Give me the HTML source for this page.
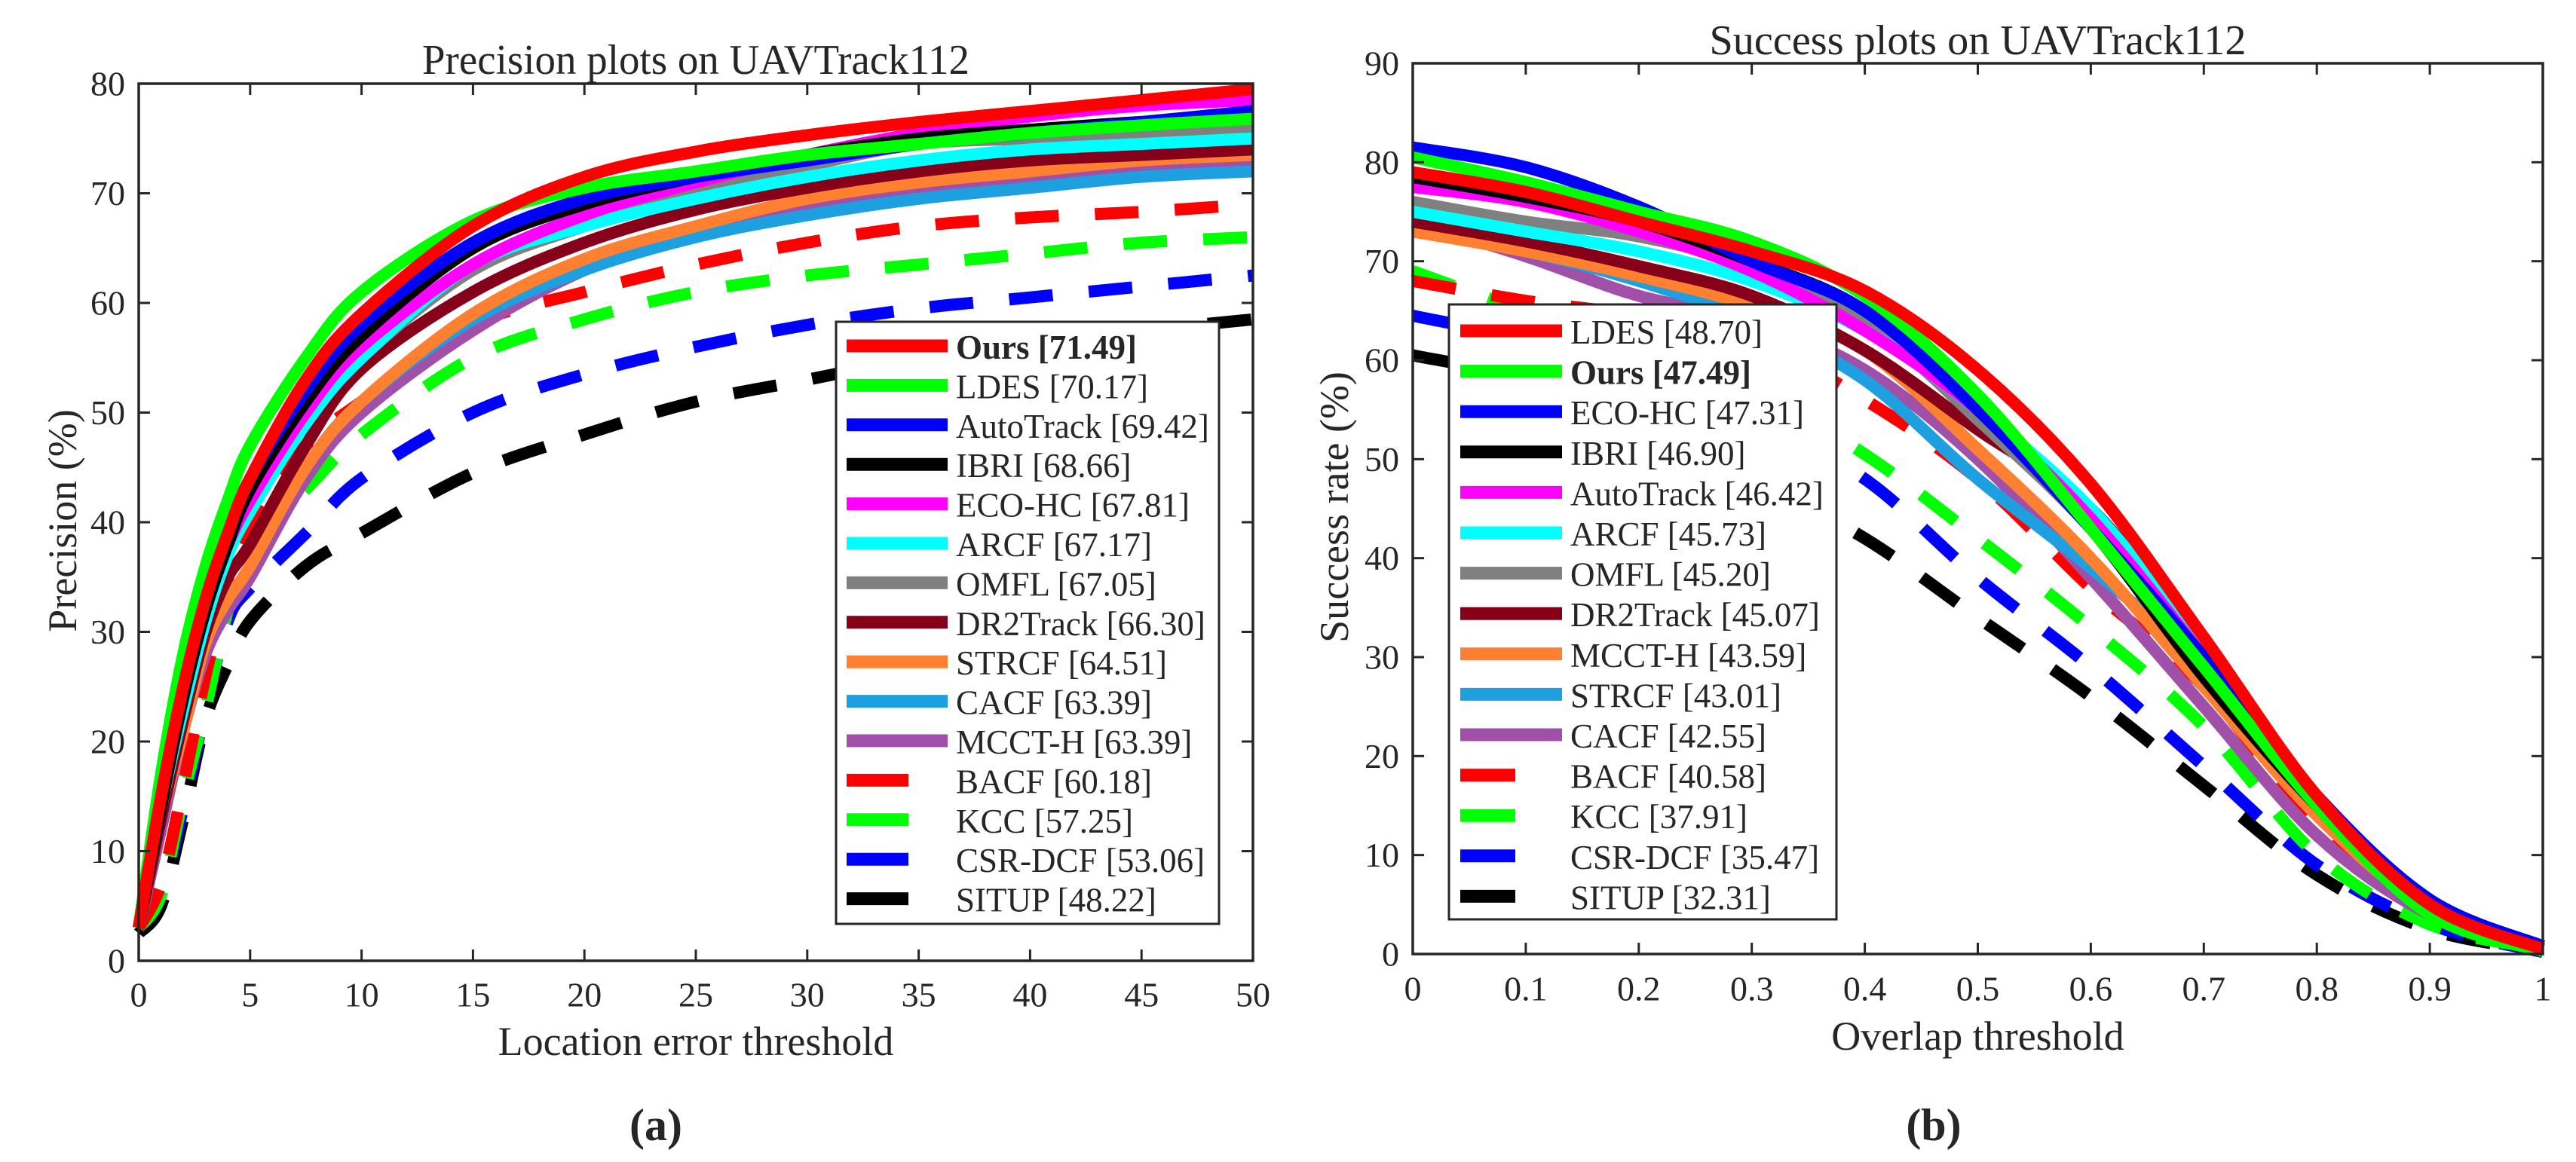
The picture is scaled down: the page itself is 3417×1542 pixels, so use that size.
<!DOCTYPE html>
<html><head><meta charset="utf-8"><style>
html,body{margin:0;padding:0;background:#fff}
svg{display:block}
text{font-family:"Liberation Serif",serif;fill:#262626}
</style></head><body>
<svg id="fig" width="3417" height="1542" viewBox="0 0 3417 1542" xmlns="http://www.w3.org/2000/svg"></svg>
<script>
// ---------- data ----------
const names = ["Ours","LDES","AutoTrack","IBRI","ECO-HC","ARCF","OMFL","DR2Track","STRCF","CACF","MCCT-H","BACF","KCC","CSR-DCF","SITUP"];
const precScores = ["71.49","70.17","69.42","68.66","67.81","67.17","67.05","66.30","64.51","63.39","63.39","60.18","57.25","53.06","48.22"];
const precX = [0,1,2,3,4,5,7.5,10,15,20,25,30,35,40,45,50];
const precOurs = [3,15,25,33,39,44,53,59,67,71.5,73.8,75.3,76.5,77.5,78.5,79.5];
const precLDES = [3,17,28,36,42,47,55,61,67.5,70.5,72,73.5,74.5,75.5,76.2,76.8];
const precAutoTrack = [3,15,25,33,39,44,52,58,65.5,69.5,71.5,73,74.5,75.5,76.5,77.5];
const precIBRI = [3,14,24,32,38,43,51,57,65,69,71.5,73.5,75,75.8,76.5,77];
const precECO = [3,15,25,33,38,42,50,56,63.5,68,71,73.5,75.5,77,78,78.5];
const precARCF = [3,14,23,31,37,41,49,55,63.5,67,69.5,71.5,73,74,74.5,75];
const precOMFL = [3,14,23,31,37,41,49,55,63,67,70,72.5,74.5,75,75.5,76];
const precDR2 = [3,13,22,30,35,38,47,54,61,65.5,68.5,70.5,72,73,73.5,74];
const precSTRCF = [3,13,21,29,33,36,45,51,59,64,67,69.5,71,72,73,73.5];
const precCACF = [3,13,21,29,33,36,45,51,58.5,63,66,68,69.5,70.5,71.5,72];
const precMCCT = [3,12,21,28,32,35,44,50,57.5,63,66.5,69,70.5,71.5,72.5,73];
const precBACF = [3,7,16,26,34,40,47,51,58,61,63.5,65.5,67,67.8,68.3,69];
const precKCC = [3,6,15,23,32,38,43,48,55,58.5,61,62.5,63.5,64.5,65.5,66];
const precCSR = [3,6,14,23,31,34,39,44,50,53.5,56,58,59.5,60.5,61.5,62.5];
const precSITUP = [2.5,5,13,22,27,31,36,39,44.5,48,51,53,55,56.5,57.5,58.5];

const succNames = ["LDES","Ours","ECO-HC","IBRI","AutoTrack","ARCF","OMFL","DR2Track","MCCT-H","STRCF","CACF","BACF","KCC","CSR-DCF","SITUP"];
const succScores = ["48.70","47.49","47.31","46.90","46.42","45.73","45.20","45.07","43.59","43.01","42.55","40.58","37.91","35.47","32.31"];
const succX = [0,0.1,0.2,0.3,0.4,0.5,0.6,0.7,0.8,0.9,1];
const succLDES = [79,77,74,71,67,59,47.5,32,16,5,0.5];
const succOurs = [80.5,78,75,72,66.5,56.5,43,29,15,4,0.3];
const succECO = [81.5,79.5,75.5,70,65,55,43,30,16,5.5,0.8];
const succIBRI = [78.5,76.5,74,70,65,55,43,28,15,4.5,0.5];
const succAutoTrack = [77.5,76,73,69,63,55,44,30,15,4.5,0.5];
const succARCF = [75,73,71,68,63,55,45,31,16,5,0.5];
const succOMFL = [76,74,72.5,69.5,64,54,43,29,15,5,0.5];
const succDR2 = [74,72,69.5,66.5,61,53,45,31,16,5,0.5];
const succMCCT = [73,71,68.5,65.5,61,51,40,27,14,4.5,0.5];
const succSTRCF = [73,71,68,64,58,48,39,29,16,5,0.5];
const succCACF = [74,70.5,66.5,64,59,50,38,25,12,4,0.5];
const succBACF = [68,66,64.5,62,56,48,37,27,13,4.5,0.5];
const succKCC = [69,65,62,57,50.5,42,33,23,10,3,0.5];
const succCSR = [64.5,62,58,54,48,38,29,19,9,3,0.2];
const succSITUP = [60.5,58,53,48,42,34,26,17,8,2.5,0.3];

const precXTicks = [0,5,10,15,20,25,30,35,40,45,50];
const precYTicks = [0,10,20,30,40,50,60,70,80];
const succXTicks = [0,0.1,0.2,0.3,0.4,0.5,0.6,0.7,0.8,0.9,1];
const succYTicks = [0,10,20,30,40,50,60,70,80,90];

const precColors = ["#ff0000","#00ff00","#0000ff","#000000","#ff00ff","#00ffff","#808080","#850018","#ff8030","#1ea0e0","#a050a8","#ff0000","#00ff00","#0000ff","#000000"];
const succColors = ["#ff0000","#00ff00","#0000ff","#000000","#ff00ff","#00ffff","#808080","#850018","#ff8030","#1ea0e0","#a050a8","#ff0000","#00ff00","#0000ff","#000000"];

const precSeries = [precOurs,precLDES,precAutoTrack,precIBRI,precECO,precARCF,precOMFL,precDR2,precSTRCF,precCACF,precMCCT,precBACF,precKCC,precCSR,precSITUP];
const succSeries = [succLDES,succOurs,succECO,succIBRI,succAutoTrack,succARCF,succOMFL,succDR2,succMCCT,succSTRCF,succCACF,succBACF,succKCC,succCSR,succSITUP];

// ---------- drawing ----------
const NS="http://www.w3.org/2000/svg";
const svg=document.getElementById('fig');
function el(tag,attrs,parent){const e=document.createElementNS(NS,tag);for(const k in attrs)e.setAttribute(k,attrs[k]);(parent||svg).appendChild(e);return e;}
function txt(s,x,y,size,anchor,parent,weight){const t=el('text',{x:x,y:y,'font-size':size,'text-anchor':anchor||'middle','dominant-baseline':'central'},parent);if(weight)t.setAttribute('font-weight',weight);t.textContent=s;return t;}
function smoothPath(pts){
  let d="M"+pts[0][0].toFixed(1)+","+pts[0][1].toFixed(1);
  for(let i=0;i<pts.length-1;i++){
    const p0=pts[Math.max(0,i-1)],p1=pts[i],p2=pts[i+1],p3=pts[Math.min(pts.length-1,i+2)];
    const c1=[p1[0]+(p2[0]-p0[0])/6,p1[1]+(p2[1]-p0[1])/6];
    const c2=[p2[0]-(p3[0]-p1[0])/6,p2[1]-(p3[1]-p1[1])/6];
    d+=" C"+c1[0].toFixed(1)+","+c1[1].toFixed(1)+" "+c2[0].toFixed(1)+","+c2[1].toFixed(1)+" "+p2[0].toFixed(1)+","+p2[1].toFixed(1);
  }
  return d;
}

function drawChart(cfg){
  const g=el('g',{});
  
  
  const {L,R,T,B}=cfg;
  const sx=v=>L+(v-cfg.xmin)/(cfg.xmax-cfg.xmin)*(R-L);
  const sy=v=>B-(v-cfg.ymin)/(cfg.ymax-cfg.ymin)*(B-T);
  el('rect',{x:L,y:T,width:R-L,height:B-T,fill:'#fff'},g);
  const sg=el('g',{},g);
  
  
  for(let i=cfg.series.length-1;i>=0;i--){
    const pts=cfg.xs.map((x,j)=>[sx(x),sy(cfg.series[i][j])]);
    const p=el('path',{d:smoothPath(pts),fill:'none',stroke:cfg.colors[i],'stroke-width':16,'stroke-linejoin':'round'},sg);
    if(i>=11)p.setAttribute('stroke-dasharray','58 48');
    
    
  }
  const box=el('rect',{x:L,y:T,width:R-L,height:B-T,fill:'none',stroke:'#262626','stroke-width':3.5},g);
  
  
  cfg.xticks.forEach(v=>{
    const x=sx(v);
    el('line',{x1:x,y1:B,x2:x,y2:B-15,stroke:'#262626','stroke-width':3},g);
    el('line',{x1:x,y1:T,x2:x,y2:T+15,stroke:'#262626','stroke-width':3},g);
    const t=txt(String(v),x,cfg.xtickY,46,'middle',g);
    
    
  });
  cfg.yticks.forEach(v=>{
    const y=sy(v);
    el('line',{x1:L,y1:y,x2:L+15,y2:y,stroke:'#262626','stroke-width':3},g);
    el('line',{x1:R,y1:y,x2:R-15,y2:y,stroke:'#262626','stroke-width':3},g);
    const t=txt(String(v),L-18,y,46,'end',g);
    
    
  });
  const ti=txt(cfg.title,(L+R)/2,cfg.titleY,56,'middle',g);
  ti.setAttribute('textLength',cfg.titleLen);
  ti.setAttribute('lengthAdjust','spacingAndGlyphs');
  
  
  const xl=txt(cfg.xlabel,(L+R)/2,cfg.xlabelY,54,'middle',g);
  
  
  const yl=txt(cfg.ylabel,0,0,54,'middle',g);
  yl.setAttribute('transform','translate('+cfg.ylabelX+','+cfg.ylabelY+') rotate(-90)');
  
  
  const cap=txt(cfg.caption,cfg.capX,1493,60,'middle',g);
  cap.setAttribute('font-weight','bold');
  
  
  const lg=el('g',{},g);
  
  
  const lgb=cfg.legend;
  el('rect',{x:lgb.x1,y:lgb.y1,width:lgb.x2-lgb.x1,height:lgb.y2-lgb.y1,fill:'#fff',stroke:'#262626','stroke-width':3},lg);
  cfg.names.forEach((n,i)=>{
    const y=lgb.r0+i*lgb.dy;
    const e=el('g',{},lg);
    
    
    el('line',{x1:lgb.lx1,y1:y,x2:i>=11?lgb.lx2d:lgb.lx2,y2:y,stroke:cfg.colors[i],'stroke-width':17},e);
    txt(n+' ['+cfg.scores[i]+']',lgb.tx,y+2,45,'start',e,n==='Ours'?'bold':null);
  });
}

drawChart({id:'precision-chart',L:184,R:1662,T:111,B:1275,xmin:0,xmax:50,ymin:0,ymax:80,
  xs:precX,series:precSeries,colors:precColors,names:names,scores:precScores,
  xticks:precXTicks,yticks:precYTicks,xtickY:1320,
  title:'Precision plots on UAVTrack112',titleY:80,titleLen:726,xlabel:'Location error threshold',xlabelY:1382,
  ylabel:'Precision (%)',ylabelX:83,ylabelY:691,caption:'(a)',capX:870,
  legend:{x1:1109,y1:427,x2:1617,y2:1226,r0:459,dy:52.4,lx1:1123,lx2:1257,lx2d:1205,tx:1268}});

drawChart({id:'success-chart',L:1874,R:3373,T:84,B:1266,xmin:0,xmax:1,ymin:0,ymax:90,
  xs:succX,series:succSeries,colors:succColors,names:succNames,scores:succScores,
  xticks:succXTicks,yticks:succYTicks,xtickY:1312,
  title:'Success plots on UAVTrack112',titleY:54,titleLen:712,xlabel:'Overlap threshold',xlabelY:1375,
  ylabel:'Success rate (%)',ylabelX:1770,ylabelY:673,caption:'(b)',capX:2565,
  legend:{x1:1922,y1:404,x2:2436,y2:1220,r0:439,dy:53.6,lx1:1937,lx2:2072,lx2d:2010,tx:2083}});
</script>
</body></html>
